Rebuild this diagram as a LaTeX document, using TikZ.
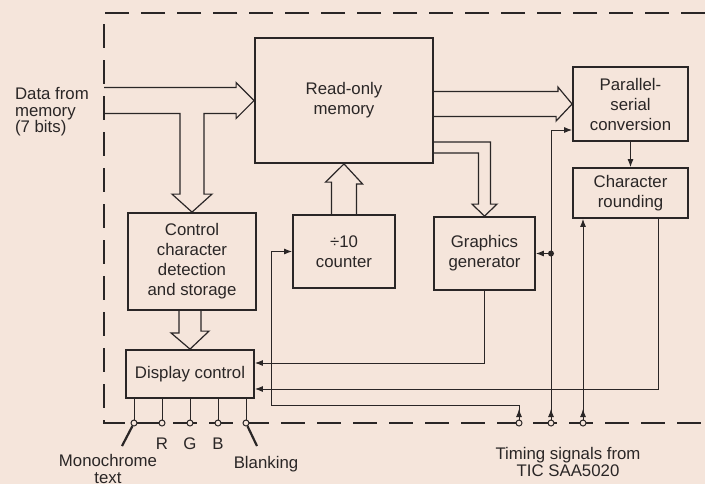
\documentclass[tikz,border=0pt]{standalone}
\usepackage{fontspec}
\setmainfont{Liberation Sans}
\usetikzlibrary{arrows.meta, positioning, calc}
\definecolor{paper}{RGB}{245,229,219}
\definecolor{ink}{RGB}{42,38,38}

\begin{document}
\begin{tikzpicture}[
  x=0.5pt, y=-0.5pt,
  font=\fontsize{8.4}{10}\selectfont,
  color=ink,
  >={Latex[length=4pt,width=3pt]},
  box/.style={draw,line width=0.9pt,align=center,inner sep=2pt},
  bus/.style={line width=0.6pt,line join=miter},
  sig/.style={->,line width=0.45pt},
  wire/.style={line width=0.45pt},
  frame/.style={line width=0.6pt,dash pattern=on 12pt off 6pt},
  term/.style={circle,draw,line width=0.5pt,fill=paper,inner sep=0pt,minimum size=3pt},
  dot/.style={circle,fill=ink,inner sep=0pt,minimum size=3pt},
  lead/.style={line width=1.1pt}
]
\fill[paper] (0,0) rectangle (705,484);
\useasboundingbox (0,0) rectangle (705,484);
\draw[frame] (705,13) -| (104,423) -- (705,423);
\node[box,minimum width=89pt,minimum height=62.5pt] (rom) at (344,100.5) {Read-only\\memory};
\node[box,minimum width=57.5pt,minimum height=37pt] (ps) at (630.5,104) {Parallel-\\serial\\conversion};
\node[box,minimum width=57.5pt,minimum height=25pt] (rnd) at (630.5,193) {Character\\rounding};
\node[box,minimum width=64pt,minimum height=48.5pt] (ctrl) at (192,261.5) {Control\\character\\detection\\and storage};
\node[box,minimum width=51pt,minimum height=36.5pt] (cnt) at (344,251.5) {÷10\\counter};
\node[box,minimum width=50.5pt,minimum height=36.5pt] (gfx) at (484.5,253.5) {Graphics\\generator};
\node[box,minimum width=64pt,minimum height=24pt] (disp) at (190,374) {Display control};
\node[term] (mono) at (134,423) {};
\node[term] (red) at (162,423) {};
\node[term] (green) at (190,423) {};
\node[term] (blue) at (218,423) {};
\node[term] (blank) at (246,423) {};
\node[term] (t1) at (519,423) {};
\node[term] (t2) at (551,423) {};
\node[term] (t3) at (583,423) {};
\node[below=2pt of red] (lblr) {R};
\node[below=2pt of green] (lblg) {G};
\node[below=2pt of blue] (lblb) {B};
\node[align=center,font=\fontsize{8.4}{8.5}\selectfont] (monolbl) at (108,469) {Monochrome\\text};
\node (blanklbl) at (266,464) {Blanking};
\node[align=center,font=\fontsize{8.4}{8.5}\selectfont] (timelbl) at (568,461.5) {Timing signals from\\TIC SAA5020};
\node[align=left,anchor=west,font=\fontsize{8.4}{8.2}\selectfont] (datalbl) at (8,112) {Data from\\memory\\(7 bits)};
\coordinate (in1) at (104,87.5);
\coordinate (in2) at (104,113.5);
\coordinate (monoend) at (122,446);
\coordinate (blankend) at (257,446);
% wide data paths
\draw[bus] (in1) -- ($(rom.west)+(-18,-13)$) -- ++(0,-5) -- (rom.west) -- ++(-18,18) -- ++(0,-5)
  -| ($(ctrl.north)+(12,-18)$) -- ++(8,0) -- (ctrl.north) -- ++(-20,-18) -- ++(8,0) |- (in2);
\draw[bus] ([yshift=4.5pt]rom.east) -- ++(124,0) -- ++(0,-4.5) -- (ps.west) -- ++(-16,17) -- ++(0,-4.5) -- ++(-124,0);
\draw[bus] ([yshift=-20.75pt]rom.east) -| ($(gfx.north)+(6,-12)$) -- ++(6.5,0) -- (gfx.north)
  -- ++(-12.5,-12) -- ++(6.5,0) |- ([yshift=-26.25pt]rom.east);
\draw[bus] ($(cnt.north)+(-12.5,0)$) -- ++(0,-32) -- ++(-6,0) -- (rom.south) -- ++(18.5,20) -- ++(-6,0) -- ++(0,32);
\draw[bus] ($(ctrl.south)+(-13,0)$) -- ++(0,22) -- ++(-8,0) -- (disp.north) -- ++(19,-18) -- ++(-8,0) -- ++(0,-22);
% timing and video signals
\draw[sig] (ps) -- (rnd);
\draw[sig] (t1) -- ++(0,-14);
\draw[sig] (t2) -- ++(0,-14);
\draw[sig] (t3) -- ++(0,-14);
\draw[sig] (t1) -- ++(0,-18) -| ([xshift=-10.5pt]cnt.west) -- (cnt.west);
\draw[sig] (t2) |- ([yshift=-13pt]ps.west);
\node[dot] (jn) at (t2 |- gfx.east) {};
\draw[sig] (jn) -- (gfx.east);
\draw[sig] (t3) -- (t3 |- rnd.south);
\draw[sig] (gfx.south) |- ([yshift=5.5pt]disp.east);
\draw[sig] ([xshift=14pt]rnd.south) |- ([yshift=-7.5pt]disp.east);
% outputs
\draw[wire] (mono |- disp.south) -- (mono);
\draw[wire] (red |- disp.south) -- (red);
\draw[wire] (green |- disp.south) -- (green);
\draw[wire] (blue |- disp.south) -- (blue);
\draw[wire] (blank |- disp.south) -- (blank);
\draw[lead] (mono) -- (monoend);
\draw[lead] (blank) -- (blankend);
\end{tikzpicture}
\end{document}
